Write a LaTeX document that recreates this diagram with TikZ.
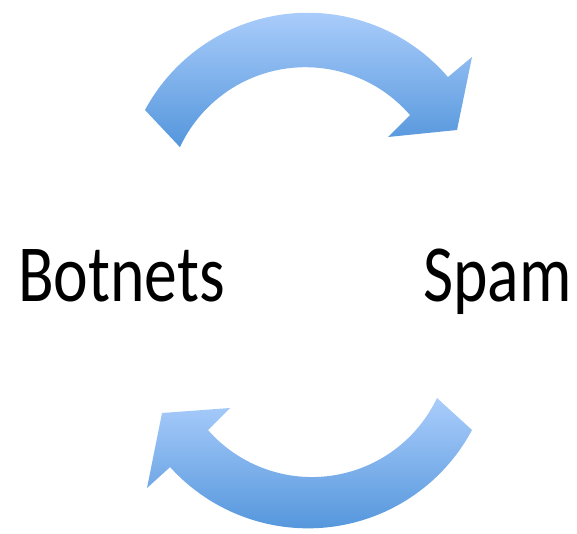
\documentclass[tikz,border=0pt]{standalone}
\usepackage{fontspec}
\setmainfont{Carlito}
\definecolor{arrlight}{RGB}{170,205,251}
\definecolor{arrdark}{RGB}{84,150,220}
\tikzset{
  bluearrow/.style={top color=arrlight, bottom color=arrdark, draw=none},
  word/.style={inner sep=0pt, font=\fontsize{81}{81}\selectfont, xscale=0.81, anchor=base west}
}
\begin{document}
\begin{tikzpicture}[x=1pt,y=1pt]
\useasboundingbox (0,0) rectangle (577,533);
% top arrow
\shade[bluearrow] (145,423) arc[start angle=151.7, end angle=40.7, radius=184.9]
  -- (472,476) -- (457,403) -- (388,396) -- (410,418)
  arc[start angle=40.9, end angle=155, radius=138.4] -- cycle;
% bottom arrow
\shade[bluearrow] (472,103) arc[start angle=-28.1, end angle=-137.9, radius=185.9]
  -- (147,45) -- (162,120) -- (230,125) -- (208,103)
  arc[start angle=-138.7, end angle=-25.4, radius=138.4] -- cycle;
\node[word] (botnets) at (18,232) {Botnets};
\node[word] (spam) at (423,232) {Spam};
\end{tikzpicture}
\end{document}
